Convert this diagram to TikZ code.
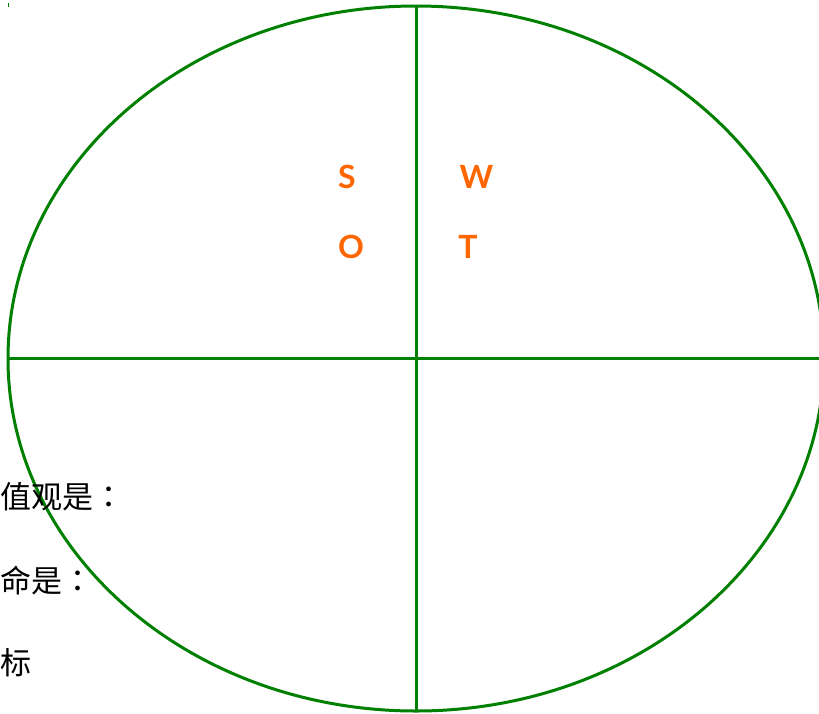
\documentclass[tikz,border=0pt]{standalone}
\usepackage{fontspec}
\usepackage{xcolor}
\newfontfamily\swotfont{Lato}
\newfontfamily\cjk{Noto Sans CJK SC}
\newfontfamily\cjkpunct{Noto Sans CJK TC}
\definecolor{swotgreen}{RGB}{0,128,0}
\definecolor{swotorange}{RGB}{255,102,0}
\newcommand{\fwcolon}{{\cjkpunct ：}}

\begin{document}
\begin{tikzpicture}[
  x=1pt, y=-1pt,
  frame/.style={draw=swotgreen, line width=3pt},
  letter/.style={text=swotorange, font=\swotfont\bfseries\fontsize{32}{36}\selectfont, inner sep=0pt},
  note/.style={anchor=west, inner sep=0pt, font=\cjk\fontsize{31}{34}\selectfont, text=black}
]
\useasboundingbox (0,0) rectangle (819,713);
\clip (0,0) rectangle (819,713);
\fill[white] (0,0) rectangle (819,713);
% big oval split in four
\draw[frame] (416,358.5) ellipse [x radius=408, y radius=352.5];
\draw[frame] (8,358) -- (819,358);
\draw[frame] (416,6) -- (416,711);
\draw[swotgreen, line width=1pt] (8.5,3) -- (8.5,7);
% letters
\node[letter] (s) at (347,177) {S};
\node[letter] (w) at (476.5,177) {W};
\node[letter] (o) at (351,247) {O};
\node[letter] (t) at (468,247) {T};
% notes on the left
\node[note] (values) at (0,497) {值观是\fwcolon};
\node[note] (mission) at (0,581) {命是\fwcolon};
\node[note] (goal) at (0,663) {标};
\end{tikzpicture}
\end{document}
